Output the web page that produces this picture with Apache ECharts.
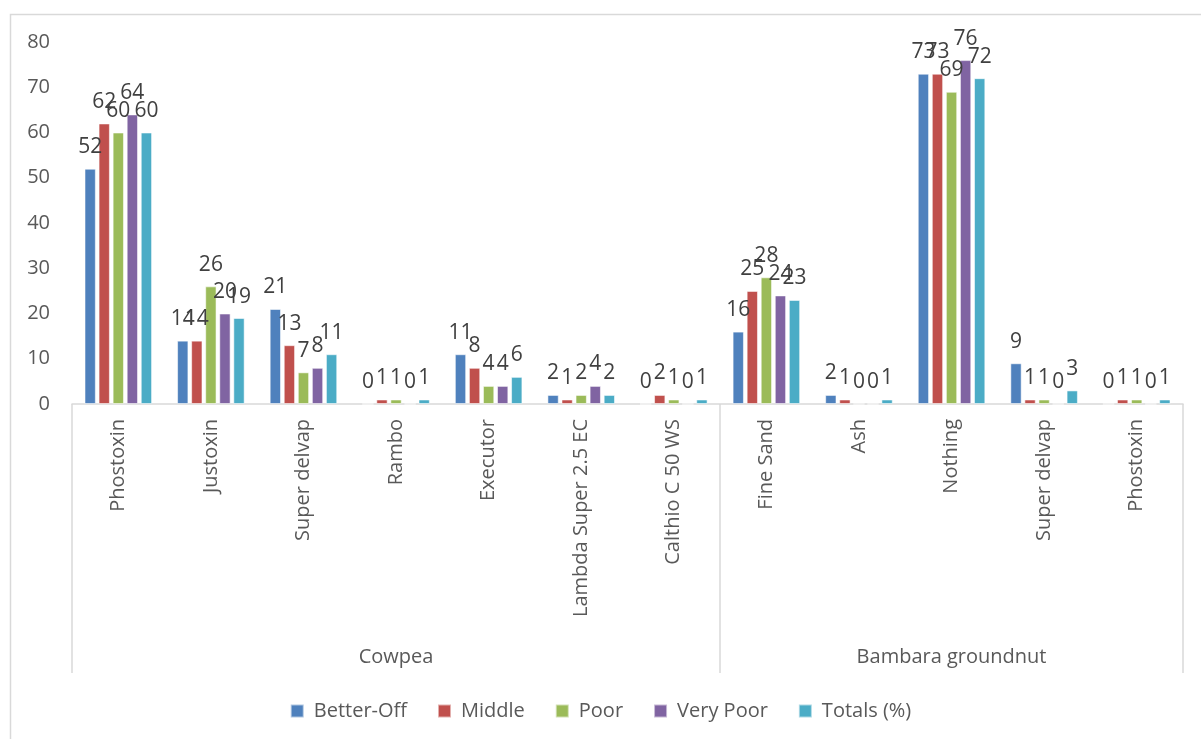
<!DOCTYPE html>
<html>
<head>
<meta charset="utf-8">
<script src="https://cdn.jsdelivr.net/npm/echarts@6/dist/echarts.min.js"></script>
<style>html,body{margin:0;padding:0;background:#fff}#c{width:1201px;height:739px}</style>
</head>
<body>
<div id="c"></div>
<script>
const categories = ['Phostoxin','Justoxin','Super delvap','Rambo','Executor','Lambda Super 2.5 EC','Calthio C 50 WS','Fine Sand','Ash','Nothing','Super delvap','Phostoxin'];
const groupNames = ['Cowpea','Bambara groundnut'];
const groupSizes = [7,5];
const seriesNames = ['Better-Off','Middle','Poor','Very Poor','Totals (%)'];
const betterOff = [52,14,21,0,11,2,0,16,2,73,9,0];
const middle    = [62,14,13,1,8,1,2,25,1,73,1,1];
const poor      = [60,26,7,1,4,2,1,28,0,69,1,1];
const veryPoor  = [64,20,8,0,4,4,0,24,0,76,0,0];
const totals    = [60,19,11,1,6,2,1,23,1,72,3,1];
const yTicks = [0,10,20,30,40,50,60,70,80];

const colors = ['#4F81BD','#C0504D','#9BBB59','#8064A2','#4BACC6'];
const values = [betterOff, middle, poor, veryPoor, totals];
const FONT = 'Open Sans';

const groupData = [];
const groupLabelIdx = [];
const groupStartIdx = [];
let acc = 0;
groupSizes.forEach((s, g) => {
  groupStartIdx.push(acc);
  groupLabelIdx.push(acc + Math.floor(s / 2));
  for (let i = 0; i < s; i++) groupData.push(groupNames[g]);
  acc += s;
});

const chart = echarts.init(document.getElementById('c'));
chart.setOption({
  animation: false,
  color: colors,
  textStyle: { fontFamily: FONT },
  graphic: [{
    type: 'rect', left: 8, top: 12, silent: true,
    shape: { width: 1210, height: 740 },
    style: { fill: 'none', stroke: '#D9D9D9', lineWidth: 1.5 }
  }],
  grid: { left: 72, right: 18, top: 42, bottom: 335 },
  legend: {
    bottom: 13, left: 'center',
    icon: 'rect', itemWidth: 13, itemHeight: 13, itemGap: 30,
    textStyle: { fontSize: 20, color: '#595959', fontFamily: FONT, padding: [0, 0, 0, 5] },
    data: seriesNames
  },
  xAxis: [{
    type: 'category', data: categories,
    axisLine: { show: true, lineStyle: { color: '#D9D9D9', width: 1.5 } },
    axisTick: { show: false },
    axisLabel: { rotate: 90, margin: 15, fontSize: 20, color: '#595959', fontFamily: FONT }
  }, {
    type: 'category', data: groupData, position: 'bottom',
    axisLine: { show: false },
    axisTick: {
      show: true, inside: false, length: 269,
      interval: (i) => groupStartIdx.indexOf(i) >= 0,
      lineStyle: { color: '#D9D9D9', width: 1.5 }
    },
    axisLabel: {
      interval: (i) => groupLabelIdx.indexOf(i) >= 0,
      margin: 243, fontSize: 20, color: '#595959', fontFamily: FONT
    }
  }],
  yAxis: {
    type: 'value', min: 0, max: 80, interval: 10,
    axisLine: { show: false }, axisTick: { show: false },
    splitLine: { show: false },
    axisLabel: {
      margin: 22, fontSize: 20, color: '#595959', fontFamily: FONT,
      formatter: (v) => yTicks.indexOf(v) >= 0 ? String(v) : ''
    }
  },
  series: seriesNames.map((n, k) => ({
    name: n, type: 'bar', xAxisIndex: 0,
    data: values[k],
    barGap: '24%', barCategoryGap: '27%',
    itemStyle: { color: colors[k], borderColor: 'rgba(255,255,255,0.55)', borderWidth: 1 },
    label: { show: true, position: 'top', distance: 11, fontSize: 21, color: '#404040', fontFamily: FONT }
  }))
});
</script>
</body>
</html>
